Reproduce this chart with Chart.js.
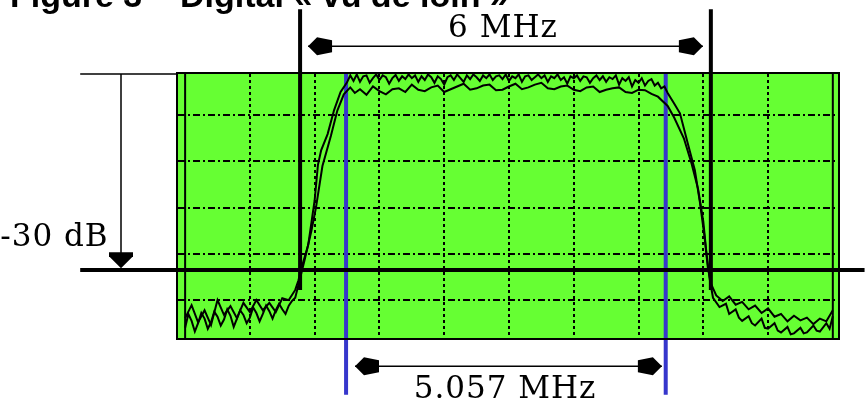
<!DOCTYPE html>
<html>
<head>
<meta charset="utf-8">
<script src="https://cdn.jsdelivr.net/npm/chart.js@4"></script>
<style>
  html, body { margin: 0; padding: 0; background: #fff; }
  canvas { display: block; }
</style>
</head>
<body>
<canvas id="spectrumCanvas" width="865" height="403"></canvas>
<script>
// units: x = horizontal screen divisions, y = vertical divisions (0 = lowest dotted line)
const gridX = [1, 2, 3, 4, 5, 6, 7, 8, 9];
const gridY = [0, 1, 2, 3, 4];
const screenX = [-0.11, 10.08];
const screenY = [-0.82, 4.89];

// spectrum trace (two sweeps overlaid), [division, level]
const traceA = [
  [0.00, -0.39], [0.10, -0.11], [0.20, -0.48], [0.30, -0.22], [0.40, -0.54], [0.50, 0.00],
  [0.60, -0.32], [0.70, -0.13], [0.80, -0.39], [0.90, -0.06], [1.00, -0.26], [1.10, 0.00],
  [1.20, -0.22], [1.30, -0.06], [1.40, -0.26], [1.50, 0.04], [1.60, 0.00], [1.70, 0.22],
  [1.75, 0.43], [1.80, 0.71], [1.90, 1.19], [2.00, 2.16], [2.05, 2.92], [2.10, 3.24],
  [2.20, 3.59], [2.30, 4.11], [2.40, 4.50], [2.50, 4.71], [2.55, 4.86], [2.60, 4.74],
  [2.65, 4.88], [2.70, 4.72], [2.75, 4.84], [2.80, 4.86], [2.85, 4.70], [2.90, 4.80],
  [2.95, 4.88], [3.00, 4.76], [3.05, 4.86], [3.10, 4.82], [3.15, 4.68], [3.20, 4.80],
  [3.25, 4.87], [3.30, 4.74], [3.35, 4.84], [3.40, 4.78], [3.45, 4.88], [3.50, 4.80],
  [3.55, 4.86], [3.60, 4.72], [3.65, 4.84], [3.70, 4.76], [3.75, 4.88], [3.80, 4.82],
  [3.85, 4.70], [3.90, 4.84], [3.95, 4.78], [4.00, 4.66], [4.05, 4.82], [4.10, 4.86],
  [4.15, 4.76], [4.20, 4.88], [4.25, 4.80], [4.30, 4.72], [4.35, 4.86], [4.40, 4.78],
  [4.45, 4.88], [4.50, 4.82], [4.55, 4.74], [4.60, 4.86], [4.65, 4.80], [4.70, 4.88],
  [4.75, 4.76], [4.80, 4.84], [4.85, 4.86], [4.90, 4.78], [4.95, 4.88], [5.00, 4.74],
  [5.05, 4.84], [5.10, 4.80], [5.15, 4.88], [5.20, 4.72], [5.25, 4.84], [5.30, 4.86],
  [5.35, 4.76], [5.40, 4.82], [5.45, 4.88], [5.50, 4.80], [5.55, 4.86], [5.60, 4.72],
  [5.65, 4.84], [5.70, 4.80], [5.75, 4.88], [5.80, 4.76], [5.85, 4.82], [5.90, 4.68],
  [5.95, 4.84], [6.00, 4.80], [6.05, 4.86], [6.10, 4.74], [6.15, 4.84], [6.20, 4.82],
  [6.25, 4.70], [6.30, 4.80], [6.35, 4.86], [6.40, 4.76], [6.45, 4.84], [6.50, 4.72],
  [6.55, 4.82], [6.60, 4.78], [6.65, 4.86], [6.70, 4.66], [6.75, 4.80], [6.80, 4.74],
  [6.85, 4.82], [6.90, 4.62], [6.95, 4.76], [7.00, 4.70], [7.05, 4.80], [7.10, 4.64],
  [7.15, 4.74], [7.20, 4.78], [7.25, 4.64], [7.30, 4.70], [7.35, 4.58], [7.40, 4.62],
  [7.45, 4.48], [7.55, 4.25], [7.64, 4.04], [7.76, 3.39], [7.87, 2.81], [7.95, 2.10],
  [8.02, 1.36], [8.07, 0.71], [8.12, 0.35], [8.20, 0.10], [8.30, -0.02], [8.40, 0.08],
  [8.50, -0.10], [8.60, -0.04], [8.70, -0.20], [8.80, -0.12], [8.90, -0.28], [9.00, -0.18],
  [9.10, -0.36], [9.20, -0.30], [9.30, -0.46], [9.40, -0.34], [9.50, -0.44], [9.60, -0.38],
  [9.70, -0.52], [9.80, -0.40], [9.90, -0.46], [10.00, -0.22]
];
const traceB = [
  [0.00, -0.60], [0.05, -0.30], [0.10, -0.45], [0.15, -0.68], [0.20, -0.50], [0.25, -0.28],
  [0.30, -0.40], [0.35, -0.62], [0.40, -0.48], [0.45, -0.25], [0.50, -0.36], [0.55, -0.55],
  [0.60, -0.42], [0.65, -0.20], [0.70, -0.34], [0.75, -0.58], [0.80, -0.40], [0.85, -0.22],
  [0.90, -0.32], [0.95, -0.50], [1.00, -0.38], [1.05, -0.16], [1.10, -0.28], [1.15, -0.46],
  [1.20, -0.30], [1.25, -0.12], [1.30, -0.24], [1.35, -0.40], [1.40, -0.22], [1.45, -0.08],
  [1.50, -0.20], [1.55, -0.30], [1.60, -0.12], [1.65, -0.02], [1.70, 0.05], [1.78, 0.50],
  [1.85, 0.90], [1.95, 1.50], [2.02, 2.00], [2.12, 2.90], [2.25, 3.55], [2.35, 4.10],
  [2.45, 4.45], [2.55, 4.60], [2.62, 4.48], [2.70, 4.56], [2.80, 4.44], [2.90, 4.62],
  [3.00, 4.52], [3.10, 4.45], [3.20, 4.56], [3.30, 4.58], [3.40, 4.50], [3.50, 4.66],
  [3.60, 4.55], [3.70, 4.52], [3.80, 4.60], [3.90, 4.64], [4.00, 4.50], [4.10, 4.56],
  [4.20, 4.62], [4.30, 4.68], [4.40, 4.55], [4.50, 4.58], [4.60, 4.64], [4.70, 4.66],
  [4.80, 4.54], [4.90, 4.55], [5.00, 4.62], [5.10, 4.68], [5.20, 4.56], [5.30, 4.60],
  [5.40, 4.66], [5.50, 4.70], [5.60, 4.58], [5.70, 4.56], [5.80, 4.62], [5.90, 4.64],
  [6.00, 4.55], [6.10, 4.52], [6.20, 4.60], [6.30, 4.62], [6.40, 4.50], [6.50, 4.55],
  [6.60, 4.58], [6.70, 4.60], [6.80, 4.50], [6.90, 4.48], [7.00, 4.55], [7.10, 4.54],
  [7.20, 4.46], [7.30, 4.40], [7.45, 4.20], [7.55, 3.95], [7.70, 3.50], [7.82, 2.95],
  [7.92, 2.40], [8.00, 1.70], [8.05, 1.00], [8.10, 0.45], [8.15, 0.05], [8.25, -0.15],
  [8.35, -0.08], [8.40, -0.30], [8.50, -0.20], [8.55, -0.38], [8.60, -0.45], [8.70, -0.35],
  [8.75, -0.50], [8.80, -0.55], [8.90, -0.40], [8.95, -0.60], [9.00, -0.62], [9.10, -0.50],
  [9.15, -0.66], [9.20, -0.70], [9.30, -0.58], [9.35, -0.74], [9.40, -0.72], [9.50, -0.60],
  [9.55, -0.72], [9.60, -0.70], [9.70, -0.55], [9.75, -0.66], [9.80, -0.68], [9.90, -0.50],
  [9.95, -0.62], [10.00, -0.35]
];

// markers: channel edges (6 MHz), measured bandwidth edges (5.057 MHz), 0 dB / -30 dB levels
const channelEdges = [1.775, 8.117];
const bandEdges = [2.485, 7.42];
const refLevels = [4.89, 0.65];
const labels = ['6 MHz', '5.057 MHz', '-30 dB'];
const titleText = 'Figure 3 – Digital « vu de loin »';

const pts = arr => arr.map(([x, y]) => ({ x, y }));
const seg = (x0, y0, x1, y1) => [{ x: x0, y: y0 }, { x: x1, y: y1 }];

function lineSet(data, color, width, clip) {
  return {
    data, borderColor: color, borderWidth: width, pointRadius: 0,
    tension: 0, fill: false, clip: clip ? undefined : false
  };
}

// arrow positions in axis units
const arrowTop = { y: 5.49, tips: [1.898, 7.994] };
const arrowBottom = { y: -1.43, tips: [2.623, 7.361] };
const arrowDb = { x: -0.99, tip: 0.69 };

// arrowhead outline, pointing left with tip at the origin
const headShape = [[0, 0], [9, -9], [24, -6], [24, 6], [9, 9]];
const headShapeDb = [[0, 0], [12, -12], [16, -12], [16, 12], [12, 12]];

function drawHead(ctx, tx, ty, dir, shape) {
  ctx.beginPath();
  shape.forEach(([u, v], i) => {
    let px, py;
    if (dir === 'left') { px = tx + u; py = ty + v; }
    else if (dir === 'right') { px = tx - u; py = ty + v; }
    else { px = tx + v; py = ty - u; } // down
    i ? ctx.lineTo(px, py) : ctx.moveTo(px, py);
  });
  ctx.closePath();
  ctx.fill();
}

const screenPlugin = {
  id: 'screen',
  beforeDraw(chart) {
    const { ctx, chartArea: a } = chart;
    ctx.save();
    ctx.fillStyle = '#66ff33';
    ctx.fillRect(a.left, a.top, a.right - a.left, a.bottom - a.top);
    ctx.restore();
  },
  afterDraw(chart) {
    const { ctx, chartArea: a } = chart;
    const xs = chart.scales.x, ys = chart.scales.y;
    ctx.save();
    ctx.strokeStyle = '#000';
    ctx.lineWidth = 2;
    ctx.strokeRect(a.left - 1, a.top - 1, a.right - a.left + 2, a.bottom - a.top + 2);

    ctx.fillStyle = '#000';
    const yT = ys.getPixelForValue(arrowTop.y);
    drawHead(ctx, xs.getPixelForValue(arrowTop.tips[0]), yT, 'left', headShape);
    drawHead(ctx, xs.getPixelForValue(arrowTop.tips[1]), yT, 'right', headShape);
    const yB = ys.getPixelForValue(arrowBottom.y);
    drawHead(ctx, xs.getPixelForValue(arrowBottom.tips[0]), yB, 'left', headShape);
    drawHead(ctx, xs.getPixelForValue(arrowBottom.tips[1]), yB, 'right', headShape);
    drawHead(ctx, xs.getPixelForValue(arrowDb.x), ys.getPixelForValue(arrowDb.tip), 'down', headShapeDb);

    ctx.font = '31px "DejaVu Serif"';
    ctx.letterSpacing = '1px';
    ctx.textBaseline = 'alphabetic';
    ctx.textAlign = 'center';
    ctx.fillText(labels[0], xs.getPixelForValue(4.907), ys.getPixelForValue(5.69));
    ctx.fillText(labels[1], xs.getPixelForValue(4.94), ys.getPixelForValue(-2.12));
    ctx.textAlign = 'left';
    ctx.fillText(labels[2], xs.getPixelForValue(-2.855), ys.getPixelForValue(1.17));

    ctx.letterSpacing = '0px';
    ctx.font = 'bold 34px "Liberation Sans", Arial, sans-serif';
    ctx.fillText(titleText, 10, 7);
    ctx.restore();
  }
};

const ctx = document.getElementById('spectrumCanvas').getContext('2d');

const datasets = [
  lineSet(pts(traceA), '#000', 2, true),
  lineSet(pts(traceB), '#000', 2, true),
  // inner screen edges
  lineSet(seg(0, screenY[0], 0, screenY[1]), '#000', 2, true),
  lineSet(seg(10, screenY[0], 10, screenY[1]), '#000', 2, true),
  // reference levels
  lineSet(seg(-1.62, refLevels[0], screenX[0], refLevels[0]), '#000', 1.5, false),
  lineSet(seg(-1.62, refLevels[1], 10.49, refLevels[1]), '#000', 4, false),
  // channel edges
  lineSet(seg(channelEdges[0], 0.22, channelEdges[0], 6.29), '#000', 4, false),
  lineSet(seg(channelEdges[1], 0.22, channelEdges[1], 6.29), '#000', 4, false),
  // bandwidth edges
  lineSet(seg(bandEdges[0], refLevels[0], bandEdges[0], -2.05), '#3636cc', 4, false),
  lineSet(seg(bandEdges[1], refLevels[0], bandEdges[1], -2.05), '#3636cc', 4, false),
  // arrow shafts
  lineSet(seg(arrowTop.tips[0], arrowTop.y, arrowTop.tips[1], arrowTop.y), '#000', 1.5, false),
  lineSet(seg(arrowBottom.tips[0], arrowBottom.y, arrowBottom.tips[1], arrowBottom.y), '#000', 1.5, false),
  lineSet(seg(arrowDb.x, refLevels[0], arrowDb.x, arrowDb.tip + 0.2), '#000', 1.5, false)
];

const gridOpts = { color: '#000', lineWidth: 2, drawTicks: false };

new Chart(ctx, {
  type: 'line',
  data: { datasets },
  options: {
    responsive: false,
    animation: false,
    devicePixelRatio: 1,
    layout: { autoPadding: false, padding: { left: 178, right: 27, top: 74, bottom: 65 } },
    plugins: { legend: { display: false }, tooltip: { enabled: false } },
    scales: {
      x: {
        type: 'linear', min: screenX[0], max: screenX[1],
        afterBuildTicks: s => { s.ticks = gridX.map(v => ({ value: v })); },
        ticks: { display: false },
        grid: gridOpts,
        border: { display: false, dash: [3, 3] }
      },
      y: {
        type: 'linear', min: screenY[0], max: screenY[1],
        afterBuildTicks: s => { s.ticks = gridY.map(v => ({ value: v })); },
        ticks: { display: false },
        grid: gridOpts,
        border: { display: false, dash: [7, 3, 2, 3] }
      }
    }
  },
  plugins: [screenPlugin]
});
</script>
</body>
</html>
